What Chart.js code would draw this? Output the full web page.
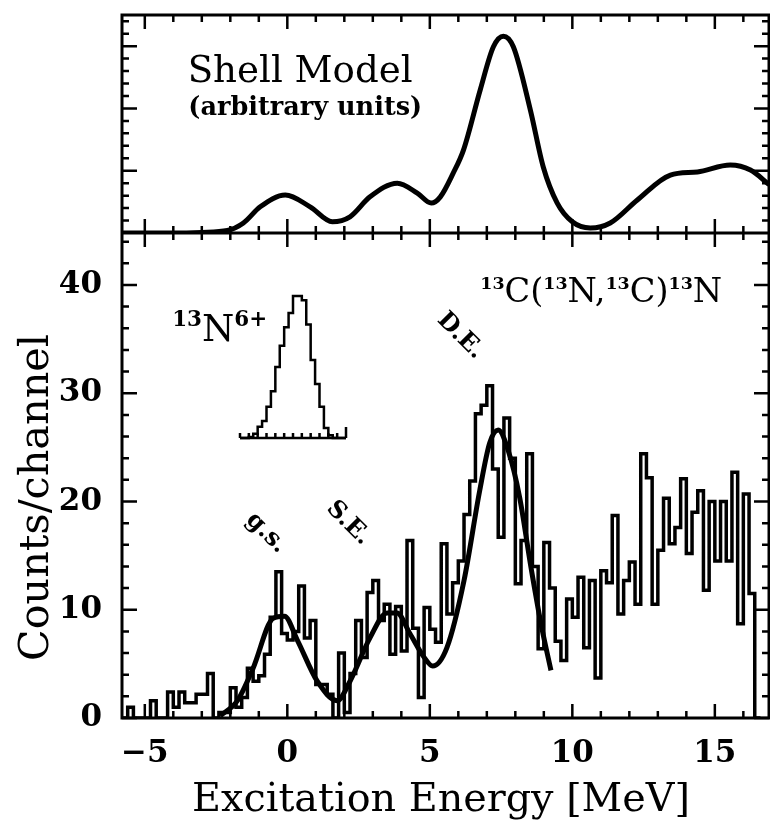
<!DOCTYPE html>
<html><head><meta charset="utf-8">
<script src="https://cdn.jsdelivr.net/npm/chart.js@4.4.1/dist/chart.umd.min.js"></script>
<style>
html,body{margin:0;padding:0;background:#fff;}
#wrap{position:relative;width:770px;height:826px;background:#fff;}
#main{position:absolute;left:0;top:0;}
#insetBox{position:absolute;left:236px;top:292px;width:114px;height:148px;}
</style></head><body>
<div id="wrap"><canvas id="main" width="770" height="826"></canvas>
<div id="insetBox"><canvas id="inset" width="114" height="148"></canvas></div></div>
<script>
const FONT = '"DejaVu Serif", serif';

// ---- Data ----
// Measured spectrum 13C(13N,13C)13N : bin start energy + bin width, counts per bin
const histStart = -5.8;
const histBinWidth = 0.2;
const histCounts = [
  0, 0, 1, 0, 0, 0, 1.6, 0, 0, 2.4,
  1, 2.4, 1.4, 1.4, 2.2, 2.2, 4.1, 0, 0.5, 0.5,
  2.8, 1, 1.9, 4.6, 3.4, 3.9, 5.9, 9.3, 13.5, 7.8,
  7.2, 8, 12.2, 7.4, 9.0, 3.1, 3.1, 2.2, 0, 6.0,
  0.5, 4.1, 9.0, 5.6, 11.6, 12.7, 9.0, 10.5, 5.9, 10.3,
  6.2, 16.4, 8.3, 1.9, 10.2, 8.2, 7.0, 16.1, 9.6, 12.5,
  14.5, 18.8, 21.9, 28.1, 28.9, 30.7, 23, 16.7, 27.7, 24,
  12.4, 16.4, 24.4, 14, 6.4, 16.2, 12, 7.1, 5.3, 11.0,
  9.3, 13.0, 6.5, 12.7, 3.7, 13.6, 12.5, 18.7, 9.6, 12.7,
  14.4, 10.5, 24.4, 22.2, 10.5, 15.5, 20.3, 16.1, 17.6, 22.1,
  15.2, 19.0, 21.0, 11.8, 20.0, 14.5, 20.0, 14.5, 22.7, 8.7,
  20.7, 11.5
];
// Fitted curve through g.s., S.E., D.E. peaks
const fitEnergy = [-2.35, -1.75, -1.2, -0.5, -0.1, 0.35, 1.05, 1.75, 2.2, 2.9, 3.5, 3.85, 4.3, 4.8, 5.1, 5.6, 6.2, 6.75, 7.1, 7.4, 7.75, 8.15, 8.55, 8.9, 9.25];
const fitCounts = [0.2, 1.6, 4.6, 9.2, 9.4, 7.2, 3.4, 1.6, 3.4, 7.4, 9.7, 9.7, 7.8, 5.6, 4.8, 6.5, 12.7, 21, 25.4, 26.6, 24.7, 20.4, 13.9, 8.7, 4.4];
// Shell model (arbitrary units)
const shellEnergy = [-5.8, -4, -3, -2.1, -1.54, -0.95, -0.07, 0.8, 1.58, 2.2, 2.9, 3.86, 4.56, 5.05, 5.37, 5.82, 6.18, 6.77, 7.23, 7.58, 7.93, 8.53, 8.98, 9.47, 10.0, 10.63, 11.33, 12.28, 13.44, 14.39, 15.54, 16.25, 16.9];
const shellStrength = [0, 0, 0.01, 0.04, 0.16, 0.42, 0.61, 0.42, 0.18, 0.26, 0.58, 0.80, 0.64, 0.48, 0.58, 0.96, 1.33, 2.30, 2.99, 3.16, 2.99, 1.97, 1.06, 0.48, 0.18, 0.08, 0.16, 0.53, 0.93, 0.98, 1.09, 1.01, 0.78];
// Inset: 13N6+ beam peak (relative counts per channel)
const insetCounts = [0, 0, 0, 0.7, 3, 8, 12, 22, 33, 50, 65, 78, 88, 100, 100, 97, 80, 55, 38, 22, 7, 2, 0, 0];

// Axis ranges / ticks
const xMin = -5.8, xMax = 16.9, xStep = 5;
const countsMax = 44.8, countsStep = 10;
const shellMax = 3.5;

// ---- Build datasets ----
const histPoints = histCounts.map((c, i) => ({x: +(histStart + i * histBinWidth).toFixed(3), y: c}));
histPoints.push({x: +(histStart + histCounts.length * histBinWidth).toFixed(3), y: 0});
const fitPoints = fitEnergy.map((e, i) => ({x: e, y: fitCounts[i]}));
const shellPoints = shellEnergy.map((e, i) => ({x: e, y: shellStrength[i]}));
const insetPoints = insetCounts.map((c, i) => ({x: i, y: c}));
insetPoints.push({x: insetCounts.length, y: 0});

function fitFont(ctx, text, target, weight) {
  ctx.font = `${weight} 100px ${FONT}`;
  const w = ctx.measureText(text).width;
  return 100 * target / w;
}
function noPad(s) { s.paddingTop = 0; s.paddingBottom = 0; s.paddingLeft = 0; s.paddingRight = 0; }

const framePlugin = {
  id: 'frame',
  afterDraw(chart) {
    const {ctx, chartArea: ca, scales} = chart;
    const x = scales.x, yc = scales.yCounts, ys = scales.yShell;
    const yDiv = yc.top;
    ctx.save();
    ctx.strokeStyle = '#000';
    ctx.lineCap = 'butt';
    ctx.lineWidth = 3;
    ctx.strokeRect(ca.left, ca.top, ca.right - ca.left, ca.bottom - ca.top);
    ctx.beginPath(); ctx.moveTo(ca.left, yDiv); ctx.lineTo(ca.right, yDiv); ctx.stroke();
    ctx.lineWidth = 2.5;
    ctx.beginPath();
    for (let v = Math.ceil(xMin); v <= xMax; v++) {
      const px = x.getPixelForValue(v);
      const L = (v % 5 === 0) ? 14 : 7;
      ctx.moveTo(px, ca.bottom); ctx.lineTo(px, ca.bottom - L);
      ctx.moveTo(px, yDiv - L); ctx.lineTo(px, yDiv + L);
      ctx.moveTo(px, ca.top); ctx.lineTo(px, ca.top + L);
    }
    for (let i = 0; i * 2 <= countsMax; i++) {
      const v = i * 2;
      const py = yc.getPixelForValue(v);
      const L = (v % 10 === 0) ? 15 : 7;
      ctx.moveTo(ca.left, py); ctx.lineTo(ca.left + L, py);
      ctx.moveTo(ca.right, py); ctx.lineTo(ca.right - L, py);
    }
    for (let i = 1; i * 0.2 < shellMax; i++) {
      const py = ys.getPixelForValue(i * 0.2);
      const L = (i % 5 === 0) ? 15 : 7;
      ctx.moveTo(ca.left, py); ctx.lineTo(ca.left + L, py);
      ctx.moveTo(ca.right, py); ctx.lineTo(ca.right - L, py);
    }
    ctx.stroke();

    ctx.fillStyle = '#000';
    let fs = fitFont(ctx, 'Excitation Energy [MeV]', 498, 'normal');
    ctx.font = `normal ${fs}px ${FONT}`;
    ctx.textAlign = 'center'; ctx.textBaseline = 'alphabetic';
    ctx.fillText('Excitation Energy [MeV]', 441, 811);
    fs = fitFont(ctx, 'Counts/channel', 327, 'normal');
    ctx.save();
    ctx.translate(48, yc.getPixelForValue(countsMax / 2) + 22);
    ctx.rotate(-Math.PI / 2);
    ctx.font = `normal ${fs}px ${FONT}`;
    ctx.fillText('Counts/channel', 0, 0);
    ctx.restore();

    fs = fitFont(ctx, 'Shell Model', 225, 'normal');
    ctx.font = `normal ${fs}px ${FONT}`;
    ctx.fillText('Shell Model', x.getPixelForValue(0.45), ys.getPixelForValue(2.42));
    fs = fitFont(ctx, '(arbitrary units)', 234, 'bold');
    ctx.font = `bold ${fs}px ${FONT}`;
    ctx.fillText('(arbitrary units)', x.getPixelForValue(0.63), ys.getPixelForValue(1.90));

    function rich(parts, px, py, base, target, supRatio) {
      const f = (p, b) => `${p.sup ? 'bold ' + b * supRatio : 'normal ' + b}px ${FONT}`;
      const measure = (b) => parts.reduce((s, p) => { ctx.font = f(p, b); return s + ctx.measureText(p.t).width; }, 0);
      const b = base * target / measure(base);
      let cx = px;
      ctx.textAlign = 'left';
      parts.forEach(p => {
        ctx.font = f(p, b);
        ctx.fillText(p.t, cx, p.sup ? py - b * 0.4 : py);
        cx += ctx.measureText(p.t).width;
      });
    }
    rich([{t:'13',sup:true},{t:'C('},{t:'13',sup:true},{t:'N,'},{t:'13',sup:true},{t:'C)'},{t:'13',sup:true},{t:'N'}],
      x.getPixelForValue(6.77), yc.getPixelForValue(38.4), 34, 242, 0.52);
    rich([{t:'13',sup:true},{t:'N'},{t:'6+',sup:true}],
      x.getPixelForValue(-4.04), yc.getPixelForValue(34.8), 34, 95, 0.58);

    ctx.textAlign = 'center'; ctx.textBaseline = 'middle';
    ctx.font = `bold 24px ${FONT}`;
    [['D.E.', 6.07, 35.3], ['g.s.', -0.74, 17.1], ['S.E.', 2.14, 18.0]].forEach(([t, e, c]) => {
      ctx.save();
      ctx.translate(x.getPixelForValue(e), yc.getPixelForValue(c));
      ctx.rotate(Math.PI / 4);
      ctx.fillText(t, 0, 0);
      ctx.restore();
    });
    ctx.restore();
  }
};

const tickFont = {family: FONT, size: 31, weight: 'bold'};
new Chart(document.getElementById('main'), {
  type: 'line',
  data: {
    datasets: [
      {data: histPoints, yAxisID: 'yCounts', stepped: 'after', borderColor: '#000', borderWidth: 3.5, pointRadius: 0, fill: false, borderJoinStyle: 'miter'},
      {data: fitPoints, yAxisID: 'yCounts', borderColor: '#000', borderWidth: 5, pointRadius: 0, fill: false, cubicInterpolationMode: 'monotone'},
      {data: shellPoints, yAxisID: 'yShell', borderColor: '#000', borderWidth: 5, pointRadius: 0, fill: false, cubicInterpolationMode: 'monotone'}
    ]
  },
  options: {
    responsive: false, animation: false, devicePixelRatio: 1,
    layout: {padding: {top: 15, right: 1, left: 0, bottom: 0}},
    plugins: {legend: {display: false}, tooltip: {enabled: false}},
    scales: {
      x: {type: 'linear', position: 'bottom', min: xMin, max: xMax,
        grid: {display: false, drawTicks: false}, border: {display: false},
        ticks: {stepSize: xStep, includeBounds: false, color: '#000', font: tickFont, padding: 17, maxRotation: 0,
          callback: v => String(v).replace('-', '\u2212')},
        afterFit(s) { s.height = 108; noPad(s); }},
      yCounts: {type: 'linear', position: 'left', stack: 'panels', stackWeight: 485, min: 0, max: countsMax,
        grid: {display: false, drawTicks: false}, border: {display: false},
        ticks: {stepSize: countsStep, includeBounds: false, color: '#000', font: tickFont, padding: 20},
        afterFit(s) { s.width = 122; noPad(s); }},
      yShell: {type: 'linear', position: 'left', stack: 'panels', stackWeight: 218, min: 0, max: shellMax,
        grid: {display: false, drawTicks: false}, border: {display: false},
        ticks: {display: false},
        afterFit(s) { s.width = 122; noPad(s); }}
    }
  },
  plugins: [framePlugin]
});

const insetAxis = {
  id: 'insetAxis',
  afterDraw(chart) {
    const {ctx, scales: {x, y}} = chart;
    ctx.save();
    ctx.strokeStyle = '#000'; ctx.lineWidth = 2.5;
    const yb = y.getPixelForValue(0);
    ctx.beginPath();
    ctx.moveTo(x.left, yb); ctx.lineTo(x.right, yb);
    for (let i = 0; i <= insetCounts.length; i += 2) {
      const px = x.getPixelForValue(i);
      const L = (i === insetCounts.length) ? 11 : 5;
      ctx.moveTo(px, yb); ctx.lineTo(px, yb - L);
    }
    ctx.stroke();
    ctx.restore();
  }
};
new Chart(document.getElementById('inset'), {
  type: 'line',
  data: {datasets: [{data: insetPoints, stepped: 'after', borderColor: '#000', borderWidth: 2.5, pointRadius: 0, fill: false, clip: false}]},
  options: {
    responsive: false, animation: false, devicePixelRatio: 1,
    layout: {padding: {left: 4, right: 4, top: 4, bottom: 2}},
    plugins: {legend: {display: false}, tooltip: {enabled: false}},
    scales: {x: {type: 'linear', display: false, min: 0, max: insetCounts.length}, y: {display: false, min: 0, max: 100}}
  },
  plugins: [insetAxis]
});
</script>
</body></html>
